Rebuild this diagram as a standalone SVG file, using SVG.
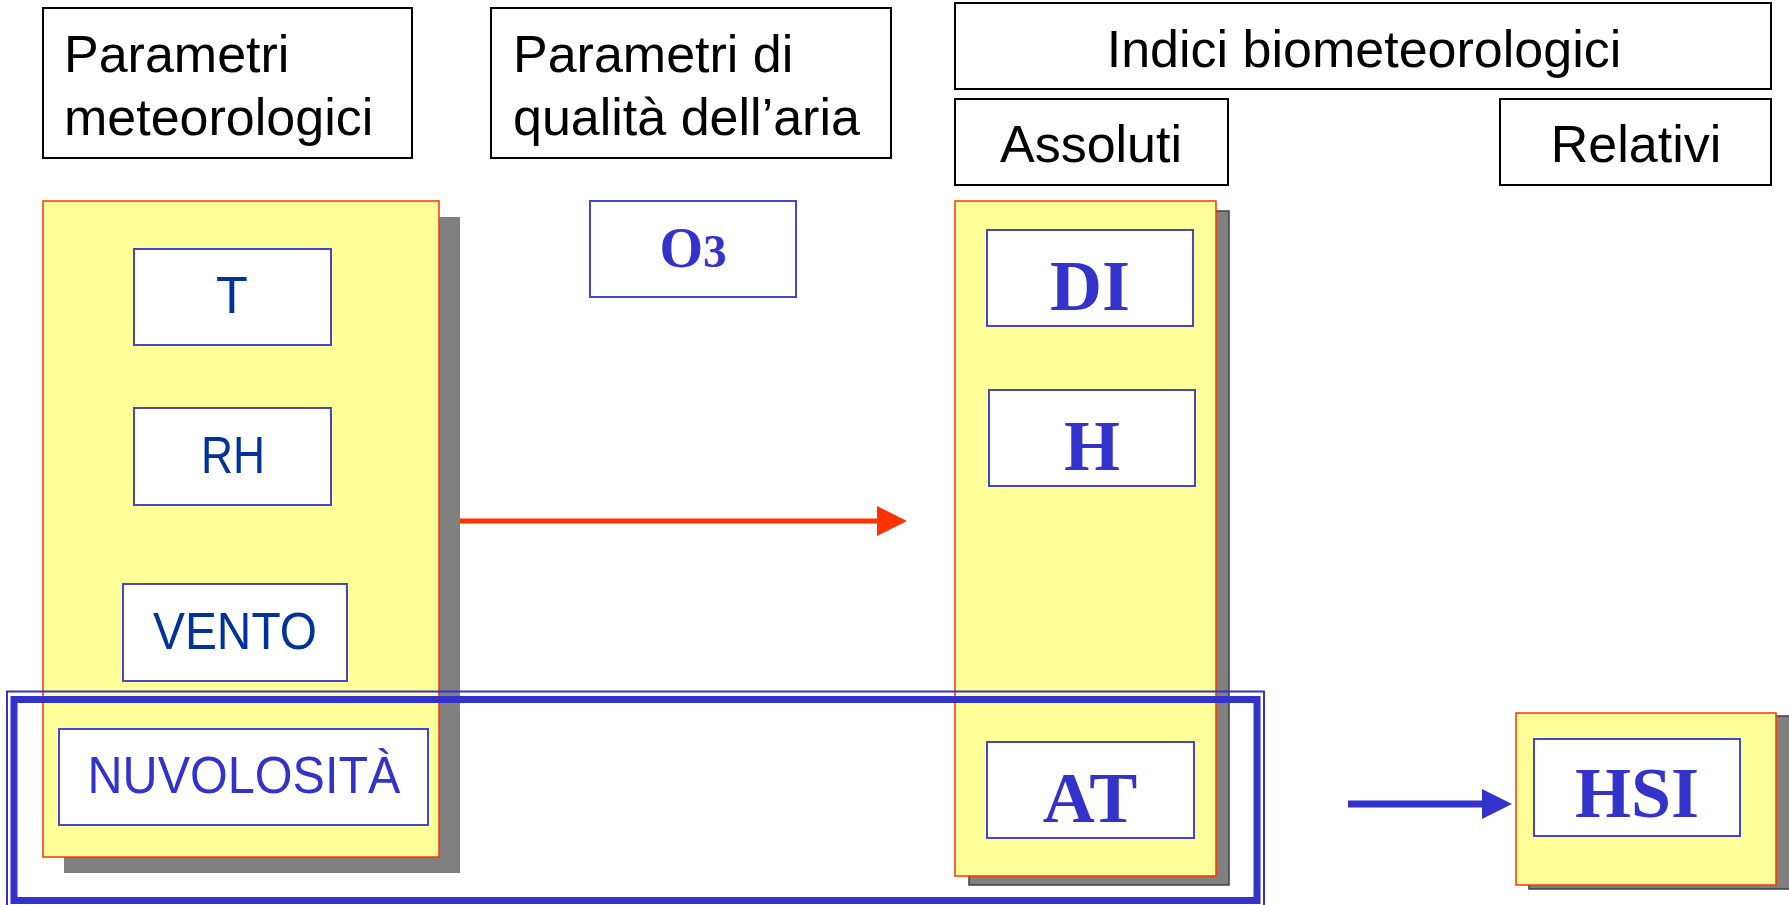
<svg xmlns="http://www.w3.org/2000/svg" width="1789" height="905" viewBox="0 0 1789 905">
  <style>
    .hdr { fill: #ffffff; stroke: #000000; stroke-width: 2; }
    .hdr-t { font-family: "Liberation Sans", Arial, sans-serif; font-size: 52px; fill: #000000; }
    .panel { fill: #ffff99; stroke: #ff3300; stroke-width: 1.5; }
    .shadow { fill: #808080; }
    .shadow-e { fill: #808080; stroke: #404040; stroke-width: 1.5; }
    .cell { fill: #ffffff; stroke: #4646c8; stroke-width: 2; }
    .sans { font-family: "Liberation Sans", Arial, sans-serif; font-size: 52px; text-anchor: middle; }
    .dk { fill: #003399; }
    .bl { fill: #3333cc; }
    .serif { font-family: "Liberation Serif", "Times New Roman", serif; font-weight: bold; font-size: 72px; fill: #3333cc; text-anchor: middle; }
  </style>
  <defs>
    <!-- arrowheads: the shaft stops at the head's base, so refX sits at the base -->
    <marker id="headRed" viewBox="0 0 30 30" refX="0" refY="15" markerWidth="30" markerHeight="30" markerUnits="userSpaceOnUse" orient="auto">
      <path d="M0,0 L30,15 L0,30 Z" fill="#ff3300"/>
    </marker>
    <marker id="headBlue" viewBox="0 0 30 30" refX="0" refY="15" markerWidth="30" markerHeight="30" markerUnits="userSpaceOnUse" orient="auto">
      <path d="M0,0 L30,15 L0,30 Z" fill="#3333cc"/>
    </marker>
  </defs>

  <rect width="1789" height="905" fill="#ffffff"/>

  <!-- column headers -->
  <g id="hdr-meteo">
    <rect class="hdr" x="43" y="8" width="369" height="150"/>
    <text class="hdr-t" x="64" y="72">Parametri</text>
    <text class="hdr-t" x="64" y="135">meteorologici</text>
  </g>
  <g id="hdr-aria">
    <rect class="hdr" x="491" y="8" width="400" height="150"/>
    <text class="hdr-t" x="513" y="72">Parametri di</text>
    <text class="hdr-t" x="513" y="135">qualità dell’aria</text>
  </g>
  <g id="hdr-indici">
    <rect class="hdr" x="955" y="3" width="816" height="86"/>
    <text class="hdr-t" x="1364" y="67" text-anchor="middle">Indici biometeorologici</text>
  </g>
  <g id="hdr-assoluti">
    <rect class="hdr" x="955" y="99" width="273" height="86"/>
    <text class="hdr-t" x="1091" y="162" text-anchor="middle">Assoluti</text>
  </g>
  <g id="hdr-relativi">
    <rect class="hdr" x="1500" y="99" width="271" height="86"/>
    <text class="hdr-t" x="1636" y="162" text-anchor="middle">Relativi</text>
  </g>

  <!-- meteorological parameters panel -->
  <g id="panel-meteo">
    <rect class="shadow" x="64" y="217" width="396" height="656"/>
    <rect class="panel" x="43" y="201" width="396" height="656"/>
  </g>
  <g id="node-T">
    <rect class="cell" x="134" y="249" width="197" height="96"/>
    <text class="sans dk" x="232" y="313">T</text>
  </g>
  <g id="node-RH">
    <rect class="cell" x="134" y="408" width="197" height="97"/>
    <text class="sans dk" x="233" y="473" textLength="64" lengthAdjust="spacingAndGlyphs">RH</text>
  </g>
  <g id="node-VENTO">
    <rect class="cell" x="123" y="584" width="224" height="97"/>
    <text class="sans dk" x="235" y="649" textLength="164" lengthAdjust="spacingAndGlyphs">VENTO</text>
  </g>
  <g id="node-NUVOLOSITA">
    <rect class="cell" x="59" y="729" width="369" height="96"/>
    <text class="sans bl" x="244" y="793" textLength="313" lengthAdjust="spacingAndGlyphs">NUVOLOSITÀ</text>
  </g>

  <!-- air quality -->
  <g id="node-O3">
    <rect class="cell" x="590" y="201" width="206" height="96"/>
    <text x="693" y="267" font-family="'Liberation Serif', 'Times New Roman', serif" font-weight="bold" fill="#3333cc" text-anchor="middle"><tspan font-size="56px">O</tspan><tspan font-size="47px">3</tspan></text>
  </g>

  <!-- absolute indices panel -->
  <g id="panel-assoluti">
    <rect class="shadow-e" x="969" y="211" width="260" height="674"/>
    <rect class="panel" x="955" y="201" width="261" height="675"/>
  </g>
  <g id="node-DI">
    <rect class="cell" x="987" y="230" width="206" height="96"/>
    <text class="serif" x="1090" y="310">DI</text>
  </g>
  <g id="node-H">
    <rect class="cell" x="989" y="390" width="206" height="96"/>
    <text class="serif" x="1092" y="470">H</text>
  </g>
  <g id="node-AT">
    <rect class="cell" x="987" y="742" width="207" height="96"/>
    <text class="serif" x="1090" y="822">AT</text>
  </g>

  <!-- relative index -->
  <g id="panel-relativi">
    <rect class="shadow-e" x="1529" y="716" width="262" height="173"/>
    <rect class="panel" x="1516" y="713" width="260" height="172"/>
  </g>
  <g id="node-HSI">
    <rect class="cell" x="1534" y="739" width="206" height="97"/>
    <text class="serif" x="1637" y="817">HSI</text>
  </g>

  <!-- connectors -->
  <g id="connectors">
    <line x1="460" y1="521" x2="877" y2="521" stroke="#ff3300" stroke-width="5" marker-end="url(#headRed)"/>
    <line x1="1348" y1="804" x2="1482" y2="804" stroke="#3333cc" stroke-width="7" marker-end="url(#headBlue)"/>
  </g>

  <!-- highlight frame around the cloud-cover / AT row -->
  <g id="highlight">
    <rect x="7" y="691.5" width="1257" height="220" fill="none" stroke="#3333cc" stroke-width="2"/>
    <rect x="14" y="699.5" width="1243" height="201" fill="none" stroke="#3333cc" stroke-width="7"/>
  </g>
</svg>
